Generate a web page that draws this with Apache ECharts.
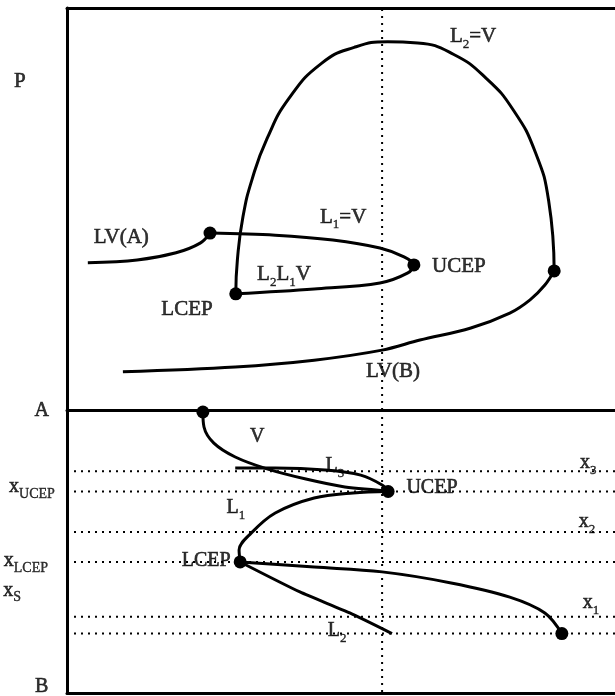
<!DOCTYPE html>
<html>
<head>
<meta charset="utf-8">
<script src="https://cdn.jsdelivr.net/npm/echarts@6/dist/echarts.min.js"></script>
<style>
  html, body { margin: 0; padding: 0; background: #fff; }
  #chart { width: 615px; height: 696px; }
</style>
</head>
<body>
<div id="chart"></div>
<script>
// ---- Upper panel: P–T projection (x = T, y = P) ----
const lvA = [[3.8, 36.6], [12.8, 37.3], [19.9, 39.1], [24.3, 41.5], [26.1, 44.0]];
const l1vToL2l1v = [[26.1, 44.0], [38.0, 43.5], [48.5, 42.3], [57.1, 40.3], [61.5, 38.1], [63.3, 36.1],
                    [62.2, 34.1], [57.1, 31.6], [45.1, 30.1], [30.8, 28.9]];
const l2v = [[30.8, 28.9], [31.1, 37.5], [32.1, 48.0], [33.8, 57.5], [36.5, 67.5], [40.5, 77.5],
             [46.5, 86.3], [52.4, 90.2], [58.5, 91.6], [64.0, 91.3], [70.5, 88.5], [76.5, 82.5],
             [81.5, 74.5], [85.5, 64.0], [87.9, 52.0], [88.9, 34.6]];
const lvB = [[88.9, 34.6], [87.2, 31.1], [84.5, 27.4], [80.8, 24.1], [73.7, 20.4], [64.4, 17.4],
             [57.5, 14.9], [45.1, 12.4], [30.7, 10.7], [10.2, 9.5]];
const topPoints = [[26.1, 44.0], [30.8, 28.9], [63.3, 36.1], [88.9, 34.6]];
const topLabels = [
  [-8.6, 81.6, 'P'],
  [74.1, 92.8, 'L{s|2}=V'],
  [50.4, 48.0, 'L{s|1}=V'],
  [9.9, 42.8, 'LV(A)'],
  [39.6, 33.6, 'L{s|2}L{s|1}V'],
  [71.5, 35.6, 'UCEP'],
  [21.9, 25.1, 'LCEP'],
  [59.5, 9.5, 'LV(B)']
];

// ---- Lower panel: T–x section (x = T, y = composition from A to B) ----
const vBranch = [[24.8, 0.7], [25.0, 6.0], [26.8, 11.7], [30.7, 16.6], [36.5, 20.8], [43.6, 24.4],
                 [50.7, 27.2], [56.4, 28.3], [58.6, 28.8]];
const l3Branch = [[30.7, 20.5], [38.0, 20.5], [47.1, 21.2], [53.6, 23.0], [57.5, 26.5], [58.6, 28.8]];
const l1Branch = [[58.6, 28.8], [52.2, 29.3], [45.1, 31.1], [38.0, 36.4], [33.6, 43.5], [31.4, 49.5], [31.6, 53.7]];
const l1Tail = [[31.6, 53.7], [45.1, 55.5], [57.5, 57.2], [70.1, 61.1], [80.8, 66.1], [87.2, 71.7], [90.3, 79.0]];
const l2Branch = [[31.6, 53.7], [42.5, 64.3], [51.6, 71.7], [59.3, 79.0]];
const bottomPoints = [[24.8, 0.7], [58.6, 28.8], [31.6, 53.7], [90.3, 79.0]];
const compositionLevels = [21.6, 28.8, 43.1, 53.7, 73.1, 79.0];
const bottomLabels = [
  [-4.6, 0.4, 'A'],
  [34.7, 9.5, 'V'],
  [48.9, 19.8, 'L{s|3}'],
  [66.6, 27.6, 'UCEP'],
  [30.8, 34.6, 'L{s|1}'],
  [25.4, 53.4, 'LCEP'],
  [49.3, 78.1, 'L{s|2}'],
  [95.1, 18.7, 'x{s|3}'],
  [94.9, 39.6, 'x{s|2}'],
  [95.6, 68.2, 'x{s|1}'],
  [-6.4, 27.2, 'x{t|UCEP}'],
  [-7.5, 53.4, 'x{t|LCEP}'],
  [-10.0, 63.7, 'x{t|S}'],
  [-4.6, 97.9, 'B']
];

// T at which the vertical isotherm is drawn
const isothermT = 57.5;

const FONT = '"Liberation Serif", "DejaVu Serif", serif';
const INK = '#000000';

const richStyles = {
  s: { fontSize: 13, fontFamily: FONT, color: INK, verticalAlign: 'top', padding: [13, 0, 0, 0], lineHeight: 13,
       textBorderColor: INK, textBorderWidth: 0.4 },
  t: { fontSize: 14, fontFamily: FONT, color: INK, verticalAlign: 'top', padding: [12, 0, 0, 0], lineHeight: 14,
       textBorderColor: INK, textBorderWidth: 0.4 }
};

function curve(data, gi, smooth) {
  return {
    type: 'line', xAxisIndex: gi === 0 ? 0 : 1, yAxisIndex: gi, data: data,
    smooth: smooth === undefined ? 0.35 : smooth, showSymbol: false, symbol: 'none',
    lineStyle: { color: INK, width: 3 }, z: 5, silent: true, animation: false
  };
}

function dotted(data, gi) {
  return {
    type: 'line', xAxisIndex: gi === 0 ? 0 : 1, yAxisIndex: gi, data: data,
    showSymbol: false, symbol: 'none',
    lineStyle: { color: INK, width: 2, type: [2, 5] }, z: 2, silent: true, animation: false
  };
}

function dots(data, gi) {
  return {
    type: 'scatter', xAxisIndex: gi === 0 ? 0 : 1, yAxisIndex: gi, data: data,
    symbol: 'circle', symbolSize: 13, itemStyle: { color: INK, opacity: 1 }, z: 6, silent: true, animation: false
  };
}

function labels(list, gi, size) {
  return {
    type: 'scatter', xAxisIndex: gi === 0 ? 0 : 1, yAxisIndex: gi, clip: false,
    data: list.map(d => ({ value: [d[0], d[1]], name: d[2] })),
    symbolSize: 0, z: 7, silent: true, animation: false,
    label: {
      show: true, position: 'inside', formatter: p => p.name,
      fontFamily: FONT, fontSize: size, color: INK, lineHeight: 24,
      textBorderColor: INK, textBorderWidth: 0.6,
      align: 'center', verticalAlign: 'middle', rich: richStyles
    }
  };
}

const hiddenAxis = {
  type: 'value', min: 0, max: 100,
  axisTick: { show: false }, axisLabel: { show: false }, splitLine: { show: false }
};
const frameLine = { show: true, onZero: false, lineStyle: { color: INK, width: 3 } };

const series = [
  dotted([[isothermT, 0], [isothermT, 100]], 0),
  dotted([[isothermT, 0], [isothermT, 100]], 1)
];
compositionLevels.forEach(c => series.push(dotted([[0, c], [100, c]], 1)));
series.push(
  curve(lvA, 0), curve(l1vToL2l1v, 0), curve(l2v, 0, 0.5), curve(lvB, 0),
  dots(topPoints, 0), labels(topLabels, 0, 21),
  curve(vBranch, 1), curve(l3Branch, 1), curve(l1Branch, 1), curve(l1Tail, 1), curve(l2Branch, 1, 0.2),
  dots(bottomPoints, 1), labels(bottomLabels, 1, 20)
);

const chart = echarts.init(document.getElementById('chart'), null, { renderer: 'canvas' });
chart.setOption({
  backgroundColor: '#ffffff',
  animation: false,
  grid: [
    { left: 67, right: 0, top: 8, height: 402 },
    { left: 67, right: 0, top: 410, height: 283 }
  ],
  xAxis: [
    Object.assign({}, hiddenAxis, { gridIndex: 0, position: 'top', axisLine: frameLine }),
    Object.assign({}, hiddenAxis, { gridIndex: 1, position: 'top', axisLine: frameLine }),
    Object.assign({}, hiddenAxis, { gridIndex: 1, position: 'bottom', axisLine: frameLine })
  ],
  yAxis: [
    Object.assign({}, hiddenAxis, { gridIndex: 0, axisLine: frameLine }),
    Object.assign({}, hiddenAxis, { gridIndex: 1, inverse: true, axisLine: frameLine })
  ],
  series: series
});
</script>
</body>
</html>
